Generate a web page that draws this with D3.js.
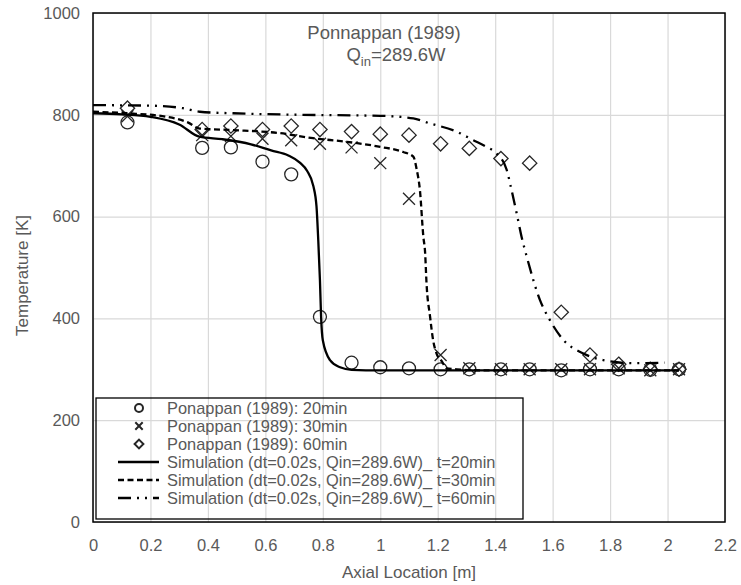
<!DOCTYPE html>
<html>
<head>
  <script src="https://d3js.org/d3.v7.min.js"></script>
  <style>
    body { margin: 0; background: #fff; }
    text { font-family: "Liberation Sans", Arial, sans-serif; fill: #595959; }
  </style>
</head>
<body>
  <svg id="chart"></svg>
  <script>
    // experimental points (Ponappan 1989)
    var expX = [0.12, 0.38, 0.48, 0.59, 0.69, 0.79, 0.9, 1.0, 1.1, 1.21, 1.31, 1.42, 1.52, 1.63, 1.73, 1.83, 1.94, 2.04];
    var exp20 = [785, 735, 736, 708, 683, 403, 313, 304, 302, 300, 300, 300, 300, 298, 300, 300, 299, 300];
    var exp30 = [797, 760, 758, 753, 750, 743, 736, 705, 635, 328, 302, 300, 300, 300, 300, 302, 298, 300];
    var exp60 = [813, 771, 778, 771, 778, 771, 767, 762, 760, 743, 734, 714, 705, 412, 328, 310, 300, 300];

    // simulation curves
    var sim20X = [0, 0.1, 0.2, 0.3, 0.37, 0.45, 0.55, 0.62, 0.68, 0.72, 0.745, 0.767, 0.778, 0.784, 0.79, 0.794, 0.80, 0.825, 0.86, 0.9, 1.0, 1.5, 2.04];
    var sim20T = [803, 801, 796, 781, 757, 752, 742, 730, 720, 706, 690, 660, 620, 555, 475, 403, 357, 318, 304, 299, 298, 298, 298];
    var sim30X = [0, 0.12, 0.256, 0.33, 0.372, 0.488, 0.65, 0.766, 0.883, 1.0, 1.08, 1.115, 1.127, 1.138, 1.15, 1.156, 1.161, 1.173, 1.184, 1.196, 1.214, 1.231, 1.266, 1.35, 2.04];
    var sim30T = [806, 803, 796, 785, 773, 770, 764, 754, 747, 737, 727, 718, 692, 652, 560, 530, 469, 405, 357, 331, 316, 302, 300, 298, 298];
    var sim60X = [0, 0.198, 0.313, 0.372, 0.488, 0.72, 1.0, 1.115, 1.173, 1.266, 1.324, 1.37, 1.405, 1.44, 1.457, 1.475, 1.492, 1.51, 1.556, 1.59, 1.637, 1.707, 1.776, 1.88, 1.99];
    var sim60T = [819, 818, 813, 806, 803, 800, 798, 793, 783, 767, 750, 737, 724, 692, 652, 606, 560, 521, 436, 397, 358, 331, 318, 312, 313];

    var xTicks = [0, 0.2, 0.4, 0.6, 0.8, 1, 1.2, 1.4, 1.6, 1.8, 2, 2.2];
    var yTicks = [0, 200, 400, 600, 800, 1000];

    var legendLabels = [
      'Ponappan (1989): 20min',
      'Ponappan (1989): 30min',
      'Ponappan (1989): 60min',
      'Simulation (dt=0.02s, Qin=289.6W)_ t=20min',
      'Simulation (dt=0.02s, Qin=289.6W)_ t=30min',
      'Simulation (dt=0.02s, Qin=289.6W)_ t=60min'
    ];

    var svgWidth = 741, svgHeight = 585;
    var margin = { top: 13, right: 16, bottom: 63, left: 93 };
    var width = svgWidth - margin.left - margin.right;
    var height = svgHeight - margin.top - margin.bottom;
    var ink = '#262626';

    var svg = d3.select('#chart')
      .attr('width', svgWidth)
      .attr('height', svgHeight);

    var g = svg.append('g')
      .attr('transform', 'translate(' + margin.left + ',' + margin.top + ')');

    var x = d3.scaleLinear().domain([0, 2.2]).range([0, width]);
    var y = d3.scaleLinear().domain([0, 1000]).range([height, 0]);

    // grid
    g.append('g')
      .attr('transform', 'translate(0,' + height + ')')
      .call(d3.axisBottom(x).tickValues(xTicks).tickSize(-height).tickFormat(''))
      .call(function(a) {
        a.select('.domain').remove();
        a.selectAll('line').attr('stroke', '#d9d9d9').attr('stroke-width', 1.2);
      });
    g.append('g')
      .call(d3.axisLeft(y).tickValues(yTicks).tickSize(-width).tickFormat(''))
      .call(function(a) {
        a.select('.domain').remove();
        a.selectAll('line').attr('stroke', '#d9d9d9').attr('stroke-width', 1.2);
      });

    // tick labels
    g.append('g')
      .attr('transform', 'translate(0,' + height + ')')
      .call(d3.axisBottom(x).tickValues(xTicks).tickSize(0).tickPadding(17).tickFormat(d3.format('')))
      .call(function(a) {
        a.select('.domain').remove();
        a.selectAll('text').style('font-size', '16.5px').attr('fill', '#595959');
      });
    g.append('g')
      .call(d3.axisLeft(y).tickValues(yTicks).tickSize(0).tickPadding(13).tickFormat(d3.format('d')))
      .call(function(a) {
        a.select('.domain').remove();
        a.selectAll('text').style('font-size', '16.5px').attr('fill', '#595959');
      });

    // axis titles
    svg.append('text')
      .attr('x', margin.left + width / 2)
      .attr('y', 578)
      .attr('text-anchor', 'middle')
      .style('font-size', '17px')
      .text('Axial Location [m]');
    svg.append('text')
      .attr('transform', 'translate(28,' + (margin.top + height / 2 + 8) + ') rotate(-90)')
      .attr('text-anchor', 'middle')
      .style('font-size', '17px')
      .text('Temperature [K]');

    // chart title
    svg.append('text')
      .attr('x', 384).attr('y', 39)
      .attr('text-anchor', 'middle')
      .style('font-size', '18.5px')
      .text('Ponnappan (1989)');
    var t2 = svg.append('text')
      .attr('x', 396).attr('y', 61)
      .attr('text-anchor', 'middle')
      .style('font-size', '18.5px');
    t2.append('tspan').text('Q');
    t2.append('tspan').attr('dy', 5).style('font-size', '13px').text('in');
    t2.append('tspan').attr('dy', -5).text('=289.6W');

    // markers
    function drawMarker(sel, type, s) {
      if (type === 'circle') {
        sel.append('circle').attr('r', s).attr('fill', 'none').attr('stroke', ink).attr('stroke-width', 1.3);
      } else if (type === 'cross') {
        var c = s * 0.92;
        sel.append('path').attr('d', 'M' + (-c) + ',' + (-c) + 'L' + c + ',' + c + 'M' + (-c) + ',' + c + 'L' + c + ',' + (-c))
          .attr('fill', 'none').attr('stroke', ink).attr('stroke-width', 1.3);
      } else {
        var dd = s * 1.1;
        sel.append('path').attr('d', 'M0,' + (-dd) + 'L' + dd + ',0L0,' + dd + 'L' + (-dd) + ',0Z')
          .attr('fill', 'none').attr('stroke', ink).attr('stroke-width', 1.3);
      }
    }

    var expSeries = [
      { vals: exp20, type: 'circle' },
      { vals: exp30, type: 'cross' },
      { vals: exp60, type: 'diamond' }
    ];
    expSeries.forEach(function(s) {
      g.append('g').selectAll('g')
        .data(expX.map(function(xv, i) { return [xv, s.vals[i]]; }))
        .enter().append('g')
        .attr('transform', function(d) { return 'translate(' + x(d[0]) + ',' + y(d[1]) + ')'; })
        .each(function() { drawMarker(d3.select(this), s.type, 6.5); });
    });

    // simulation lines
    var line = d3.line()
      .x(function(d) { return x(d[0]); })
      .y(function(d) { return y(d[1]); })
      .curve(d3.curveMonotoneX);

    var simSeries = [
      { xs: sim20X, ts: sim20T, dash: null },
      { xs: sim30X, ts: sim30T, dash: '6,3.5' },
      { xs: sim60X, ts: sim60T, dash: '13,6,2,6,2,6' }
    ];
    simSeries.forEach(function(s) {
      g.append('path')
        .datum(s.xs.map(function(xv, i) { return [xv, s.ts[i]]; }))
        .attr('fill', 'none')
        .attr('stroke', '#000')
        .attr('stroke-width', 2.3)
        .attr('stroke-dasharray', s.dash)
        .attr('d', line);
    });

    // plot frame
    g.append('rect')
      .attr('width', width).attr('height', height)
      .attr('fill', 'none').attr('stroke', '#000').attr('stroke-width', 1.5);

    // legend
    var lg = svg.append('g');
    lg.append('rect')
      .attr('x', 96).attr('y', 398).attr('width', 427).attr('height', 121)
      .attr('fill', 'none').attr('stroke', '#000').attr('stroke-width', 1.3);
    legendLabels.forEach(function(lab, i) {
      var cy = 408 + i * 18;
      var row = lg.append('g');
      if (i < 3) {
        var mk = row.append('g').attr('transform', 'translate(139,' + cy + ')');
        drawMarker(mk, expSeries[i].type, 4);
        mk.selectAll('circle,path').attr('stroke-width', 2);
      } else {
        row.append('line')
          .attr('x1', 118).attr('x2', 159).attr('y1', cy).attr('y2', cy)
          .attr('stroke', '#000').attr('stroke-width', 2.3)
          .attr('stroke-dasharray', simSeries[i - 3].dash);
      }
      row.append('text')
        .attr('x', 167).attr('y', cy + 6)
        .style('font-size', '16.4px')
        .text(lab);
    });
  </script>
</body>
</html>
